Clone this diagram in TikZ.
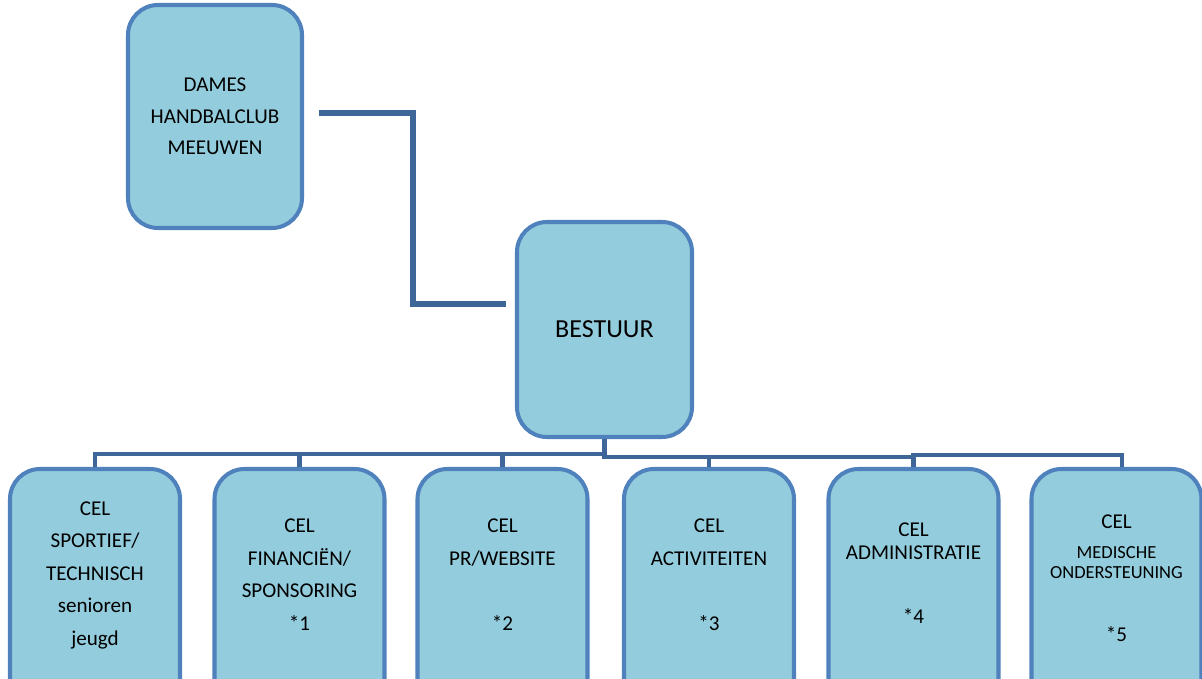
\documentclass[tikz,border=0pt]{standalone}
\usepackage{fontspec}
\setmainfont{Carlito}

\definecolor{vakrand}{HTML}{4F81BD}
\definecolor{vakvul}{HTML}{93CDDD}
\definecolor{lijnkleur}{HTML}{3E6698}

\newcommand{\celfont}{\fontsize{12}{18.5}\selectfont}
\newcommand{\kleinfont}{\fontsize{10.5}{11.4}\selectfont}

\begin{document}
\begin{tikzpicture}[
  vak/.style={draw=vakrand, fill=vakvul, line width=2.3pt, rounded corners=0.6cm, align=center},
  cel/.style={vak, minimum width=3.4cm, minimum height=4.8cm},
  celtekst/.style={align=center, font=\celfont},
  lijn/.style={draw=lijnkleur, line width=2.7pt}
]
\useasboundingbox (0,0) rectangle (24.04,13.56);

% Club / Bestuur
\node[vak, minimum width=3.48cm, minimum height=4.46cm, font=\fontsize{12}{17.9}\selectfont] (dames) at (4.30,11.23) {DAMES\\HANDBALCLUB\\MEEUWEN};
\node[vak, minimum width=3.5cm, minimum height=4.3cm, font=\fontsize{14.8}{18}\selectfont] (bestuur) at (12.09,6.97) {BESTUUR};

% Cellen
\node[cel] (sport) at (1.90,1.78) {};
\node[cel] (financien) at (5.99,1.78) {};
\node[cel] (pr) at (10.05,1.78) {};
\node[cel] (activiteiten) at (14.18,1.78) {};
\node[cel] (administratie) at (18.27,1.78) {};
\node[cel] (medisch) at (22.33,1.78) {};

% Tekst in de cellen
\node[celtekst] (sporttekst) at (1.90,2.06) {CEL\\SPORTIEF/\\TECHNISCH\\senioren\\jeugd};
\node[celtekst] (financientekst) at (5.99,2.07) {CEL\\FINANCIËN/\\SPONSORING\\*1};
\node[celtekst] (prtekst) at (10.05,2.07) {CEL\\PR/WEBSITE\\[18.5pt]*2};
\node[celtekst] (activiteitentekst) at (14.18,2.07) {CEL\\ACTIVITEITEN\\[18.5pt]*3};
\node[celtekst] (administratietekst) at (18.27,2.09) {CEL\\[-5.4pt]ADMINISTRATIE\\[18pt]*4};
\node[celtekst] (medischtekst) at (22.33,2.00) {CEL\\[-1.5pt]\kleinfont MEDISCHE\\[-7pt]\kleinfont ONDERSTEUNING\\[17pt]\celfont *5};

% Verbindingen
\draw[lijn, line width=3.2pt, shorten <=0.3cm, shorten >=0.18cm] ([yshift=0.07cm]dames.east) -- ++(2.18,0) |- ([yshift=0.51cm]bestuur.west);
\foreach \c in {sport,financien,pr}
  \draw[lijn] (bestuur.south) -- ++(0,-0.30) -| (\c.north);
\foreach \c in {activiteiten,administratie}
  \draw[lijn] (bestuur.south) -- ++(0,-0.36) -| (\c.north);
\draw[lijn] (bestuur.south) -- ++(0,-0.36) -- ++(6.18,0) -- ++(0,0.04) -| ([xshift=0.11cm]medisch.north);
\end{tikzpicture}
\end{document}
